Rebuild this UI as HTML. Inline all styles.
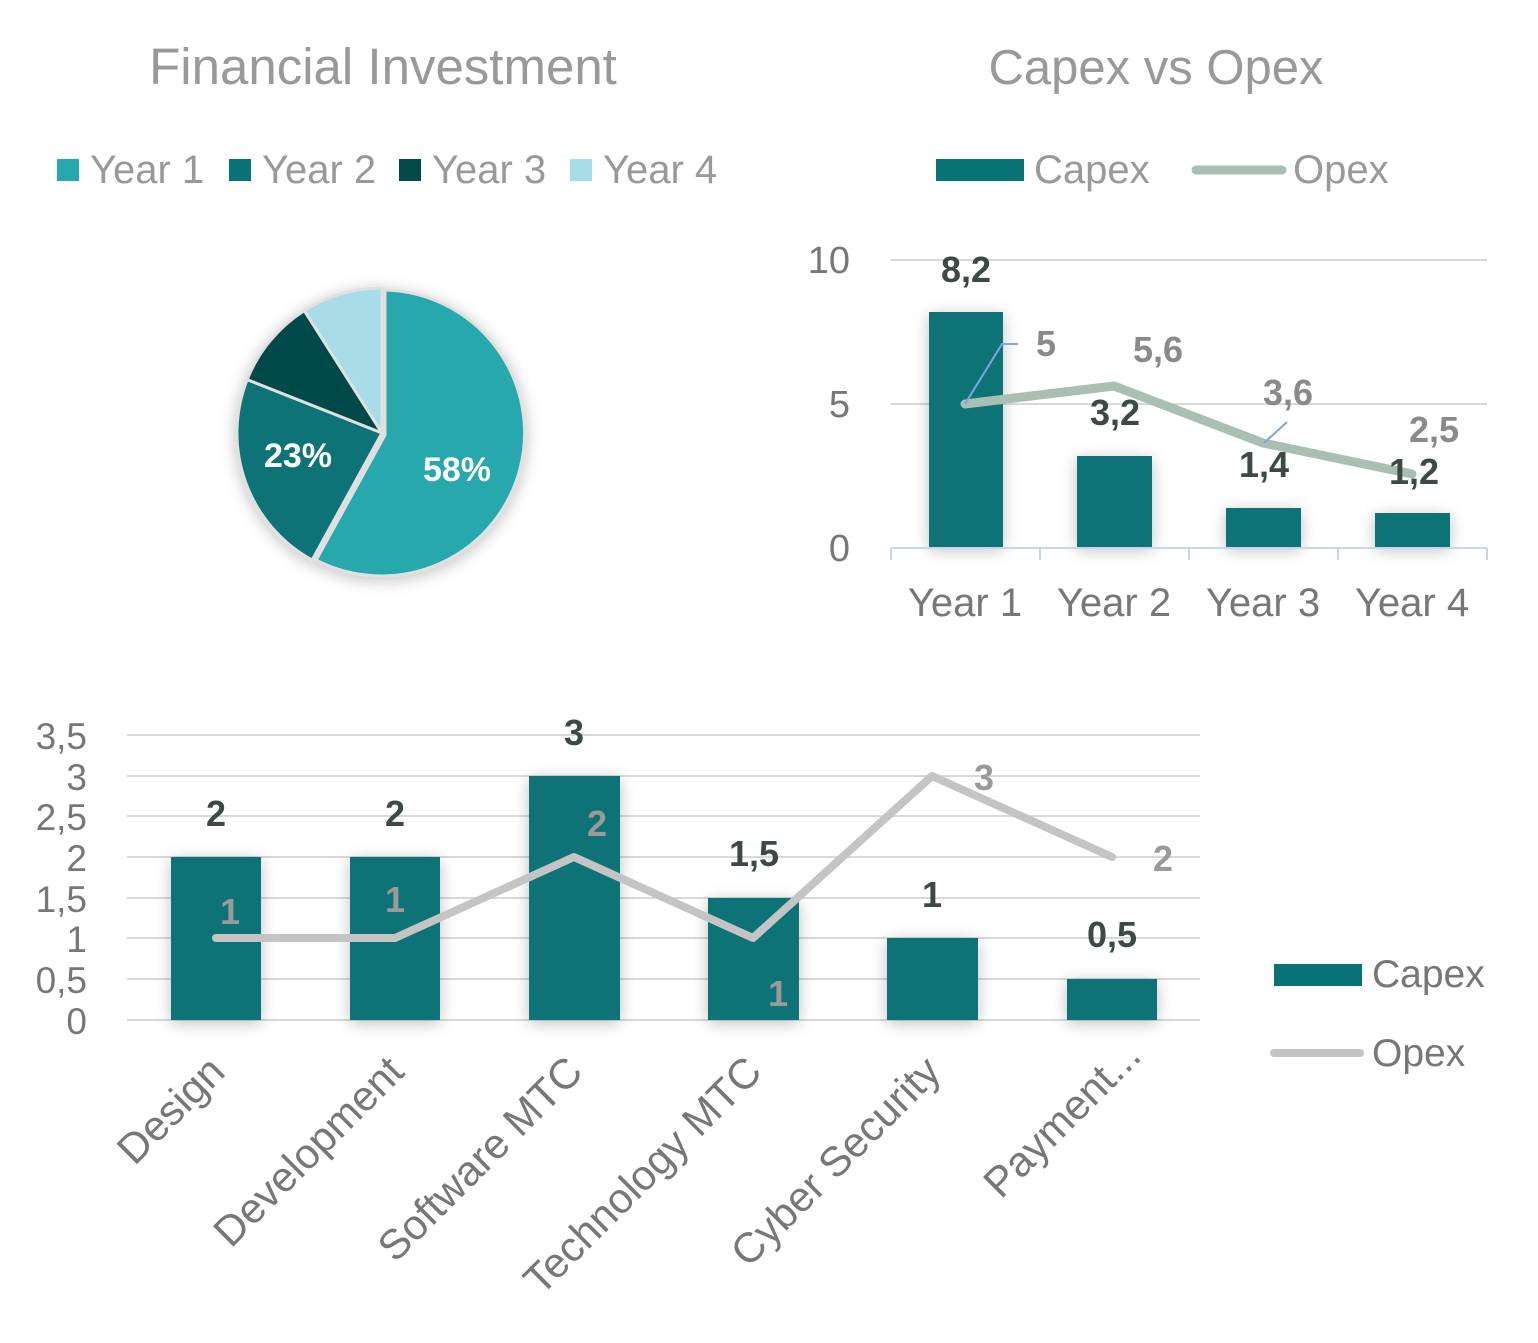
<!DOCTYPE html>
<html><head><meta charset="utf-8"><style>
html,body{margin:0;padding:0;background:#fff}
svg{display:block}
text{font-family:"Liberation Sans",sans-serif}
</style></head><body>
<svg width="1538" height="1343" viewBox="0 0 1538 1343">
<defs>
<filter id="sh" x="-20%" y="-20%" width="140%" height="140%"><feGaussianBlur in="SourceAlpha" stdDeviation="8"/><feOffset dx="0" dy="3"/><feComponentTransfer><feFuncA type="linear" slope="0.25"/></feComponentTransfer><feMerge><feMergeNode/><feMergeNode in="SourceGraphic"/></feMerge></filter>
</defs>
<text x="383" y="84" font-size="51" fill="#999" text-anchor="middle">Financial Investment</text>
<text x="1156" y="84" font-size="49" fill="#999" text-anchor="middle">Capex vs Opex</text>
<g font-size="40" fill="#999">
<rect x="57" y="159" width="22" height="22" fill="#27a8ad"/><text x="90" y="183">Year 1</text>
<rect x="229" y="159" width="22" height="22" fill="#087377"/><text x="262" y="183">Year 2</text>
<rect x="399" y="159" width="22" height="22" fill="#054a4b"/><text x="432" y="183">Year 3</text>
<rect x="570" y="159" width="22" height="22" fill="#a6dde6"/><text x="603" y="183">Year 4</text>
</g>
<g filter="url(#sh)" stroke="#e0e0e0" stroke-width="3">
<path d="M382,433 L312.1,560.1 A145,145 0 0 1 247.2,379.6 Z" fill="#087377"/>
<path d="M382,433 L247.2,379.6 A145,145 0 0 1 304.3,310.6 Z" fill="#054a4b"/>
<path d="M382,433 L304.3,310.6 A145,145 0 0 1 382,288 Z" fill="#a6dde6"/>
<path transform="translate(3,2)" d="M382,433 L382,288 A143,143 0 1 1 313.1,558.1 Z" fill="#27a8ad"/>
</g>
<text x="457" y="481" font-size="34" font-weight="bold" fill="#fff" text-anchor="middle">58%</text>
<text x="298" y="467" font-size="34" font-weight="bold" fill="#fff" text-anchor="middle">23%</text>
<rect x="936" y="159" width="88" height="22" fill="#087377"/>
<text x="1034" y="183" font-size="40" fill="#999">Capex</text>
<line x1="1196" y1="170" x2="1282" y2="170" stroke="#a9bfb3" stroke-width="9" stroke-linecap="round"/>
<text x="1293" y="183" font-size="40" fill="#999">Opex</text>
<line x1="891" y1="260" x2="1487" y2="260" stroke="#d9d9d9" stroke-width="2"/>
<line x1="891" y1="404" x2="1487" y2="404" stroke="#d9d9d9" stroke-width="2"/>
<g font-size="38" fill="#777" text-anchor="end">
<text x="850" y="273">10</text><text x="850" y="417">5</text><text x="850" y="561">0</text>
</g>
<g fill="#087377" filter="url(#sh)">
<rect x="929" y="312" width="74" height="235"/>
<rect x="1077" y="456" width="75" height="91"/>
<rect x="1226" y="508" width="75" height="39"/>
<rect x="1375" y="513" width="75" height="34"/>
</g>
<g stroke="#c5d7ef" stroke-width="2">
<line x1="891" y1="548" x2="1487" y2="548"/>
<line x1="891" y1="548" x2="891" y2="560"/><line x1="1040" y1="548" x2="1040" y2="560"/>
<line x1="1189" y1="548" x2="1189" y2="560"/><line x1="1338" y1="548" x2="1338" y2="560"/><line x1="1487" y1="548" x2="1487" y2="560"/>
</g>
<polyline points="965,404 1114,386 1263,443 1412,474" fill="none" stroke="#a9bfb3" stroke-width="9" stroke-linejoin="round" stroke-linecap="round"/>
<polyline points="965,404 1002,344 1018,344" fill="none" stroke="#7fa6e0" stroke-width="2"/>
<line x1="1264" y1="443" x2="1287" y2="422" stroke="#7fa6e0" stroke-width="2"/>
<g font-size="36" font-weight="bold" fill="#3c4a44" text-anchor="middle">
<text x="966" y="282">8,2</text><text x="1115" y="425">3,2</text><text x="1264" y="477">1,4</text><text x="1414" y="484">1,2</text>
</g>
<g font-size="36" font-weight="bold" fill="#8a8a8a" text-anchor="middle">
<text x="1046" y="356">5</text><text x="1158" y="362">5,6</text><text x="1288" y="405">3,6</text><text x="1434" y="442">2,5</text>
</g>
<g font-size="40" fill="#777" text-anchor="middle">
<text x="965" y="616">Year 1</text><text x="1114" y="616">Year 2</text><text x="1263" y="616">Year 3</text><text x="1412" y="616">Year 4</text>
</g>
<g stroke="#d9d9d9" stroke-width="2">
<line x1="127" y1="735" x2="1200" y2="735"/><line x1="127" y1="776" x2="1200" y2="776"/>
<line x1="127" y1="816" x2="1200" y2="816"/><line x1="127" y1="857" x2="1200" y2="857"/>
<line x1="127" y1="898" x2="1200" y2="898"/><line x1="127" y1="938" x2="1200" y2="938"/>
<line x1="127" y1="979" x2="1200" y2="979"/><line x1="127" y1="1020" x2="1200" y2="1020"/>
</g>
<g font-size="37" fill="#777" text-anchor="end">
<text x="87" y="749">3,5</text><text x="87" y="790">3</text><text x="87" y="830">2,5</text><text x="87" y="871">2</text>
<text x="87" y="912">1,5</text><text x="87" y="952">1</text><text x="87" y="993">0,5</text><text x="87" y="1034">0</text>
</g>
<g fill="#087377" filter="url(#sh)">
<rect x="171" y="857" width="90" height="163"/>
<rect x="350" y="857" width="90" height="163"/>
<rect x="529" y="776" width="91" height="244"/>
<rect x="708" y="898" width="91" height="122"/>
<rect x="887" y="938" width="91" height="82"/>
<rect x="1067" y="979" width="90" height="41"/>
</g>
<polyline points="216,938 395,938 574,857 753,938 932,776 1112,857" fill="none" stroke="#c4c4c4" stroke-width="8" stroke-linejoin="round" stroke-linecap="round"/>
<g font-size="36" font-weight="bold" fill="#3c4a44" text-anchor="middle">
<text x="216" y="826">2</text><text x="395" y="826">2</text><text x="574" y="745">3</text>
<text x="754" y="866">1,5</text><text x="932" y="907">1</text><text x="1112" y="947">0,5</text>
</g>
<g font-size="36" font-weight="bold" fill="#9a9a9a" text-anchor="middle">
<text x="230" y="924">1</text><text x="395" y="912">1</text><text x="597" y="836">2</text>
<text x="778" y="1006">1</text><text x="984" y="790">3</text><text x="1163" y="871">2</text>
</g>
<g font-size="42" fill="#777" text-anchor="end">
<text transform="translate(227,1074) rotate(-45)">Design</text>
<text transform="translate(406,1074) rotate(-45)">Development</text>
<text transform="translate(585,1074) rotate(-45)">Software MTC</text>
<text transform="translate(764,1074) rotate(-45)">Technology MTC</text>
<text transform="translate(943,1074) rotate(-45)">Cyber Security</text>
<text transform="translate(1143,1058) rotate(-45)">Payment...</text>
</g>
<rect x="1274" y="964" width="88" height="22" fill="#087377"/>
<text x="1372" y="987" font-size="39" fill="#777">Capex</text>
<line x1="1274" y1="1053" x2="1360" y2="1053" stroke="#c4c4c4" stroke-width="8" stroke-linecap="round"/>
<text x="1372" y="1066" font-size="39" fill="#777">Opex</text>
</svg>
</body></html>
